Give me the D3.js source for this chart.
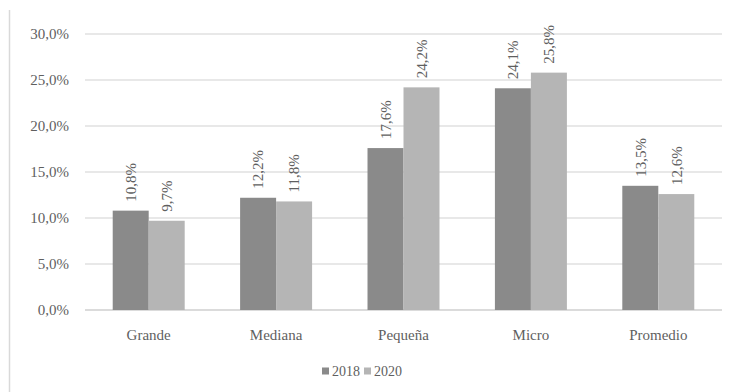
<!DOCTYPE html>
<html>
<head>
<meta charset="utf-8">
<script src="https://cdn.jsdelivr.net/npm/d3@7"></script>
<style>
  html, body { margin: 0; padding: 0; background: #fff; }
  svg { display: block; }
</style>
</head>
<body>
<svg id="chart" width="730" height="392"></svg>
<script>
const categories = ["Grande", "Mediana", "Pequeña", "Micro", "Promedio"];
const series = ["2018", "2020"];
const values2018 = [10.8, 12.2, 17.6, 24.1, 13.5];
const values2020 = [9.7, 11.8, 24.2, 25.8, 12.6];
const yTicks = [0, 5, 10, 15, 20, 25, 30];
const colors = ["#8a8a8a", "#b5b5b5"];

const fmt = v => v.toFixed(1).replace(".", ",") + "%";
const font = "'Liberation Serif', 'Times New Roman', serif";
const textColor = "#5f5f5f";

const svg = d3.select("#chart");
const margin = { left: 85, right: 8, top: 34, bottom: 82 };
const W = 730, H = 392;

const x = d3.scaleBand().domain(categories).range([margin.left, W - margin.right]).paddingInner(0.435).paddingOuter(0.2175);
const x1 = d3.scaleBand().domain(series).range([0, x.bandwidth()]);
const y = d3.scaleLinear().domain([0, 30]).range([H - margin.bottom, margin.top]);

// frame line on the left
svg.append("line")
  .attr("x1", 9.5).attr("x2", 9.5).attr("y1", 10).attr("y2", H)
  .attr("stroke", "#d9d9d9").attr("stroke-width", 1.5);

// gridlines
svg.append("g").selectAll("line").data(yTicks).join("line")
  .attr("x1", margin.left).attr("x2", W - margin.right)
  .attr("y1", d => y(d)).attr("y2", d => y(d))
  .attr("stroke", d => d === 0 ? "#cfcfcf" : "#e0e0e0")
  .attr("stroke-width", 1.5);

// y tick labels
svg.append("g").selectAll("text").data(yTicks).join("text")
  .attr("x", 69).attr("y", d => y(d)).attr("dy", "0.35em")
  .attr("text-anchor", "end")
  .attr("font-family", font).attr("font-size", 15).attr("fill", textColor)
  .text(d => fmt(d));

const rows = categories.map((c, i) => ({ cat: c, vals: [values2018[i], values2020[i]] }));

const groups = svg.append("g").selectAll("g").data(rows).join("g")
  .attr("transform", d => `translate(${x(d.cat)},0)`);

groups.selectAll("rect").data(d => d.vals.map((v, j) => ({ v, s: series[j], j }))).join("rect")
  .attr("x", d => x1(d.s)).attr("width", x1.bandwidth())
  .attr("y", d => y(d.v)).attr("height", d => y(0) - y(d.v))
  .attr("fill", d => colors[d.j]);

groups.selectAll("text").data(d => d.vals.map((v, j) => ({ v, s: series[j], j }))).join("text")
  .attr("transform", d => `translate(${x1(d.s) + x1.bandwidth() / 2},${y(d.v) - 9}) rotate(-90)`)
  .attr("dy", "0.35em")
  .attr("text-anchor", "start")
  .attr("font-family", font).attr("font-size", 15).attr("fill", textColor)
  .text(d => fmt(d.v));

// category labels
svg.append("g").selectAll("text").data(categories).join("text")
  .attr("x", d => x(d) + x.bandwidth() / 2).attr("y", y(0) + 30)
  .attr("text-anchor", "middle")
  .attr("font-family", font).attr("font-size", 15).attr("fill", textColor)
  .text(d => d);

// legend
const legend = svg.append("g").attr("transform", "translate(322,371)");
const items = legend.selectAll("g").data(series).join("g")
  .attr("transform", (d, i) => `translate(${i * 42},0)`);
items.append("rect").attr("x", 0).attr("y", -3.5).attr("width", 7).attr("height", 7)
  .attr("fill", (d, i) => colors[i]);
items.append("text").attr("x", 10).attr("y", 0).attr("dy", "0.35em")
  .attr("font-family", font).attr("font-size", 14).attr("fill", textColor)
  .text(d => d);
</script>
</body>
</html>
